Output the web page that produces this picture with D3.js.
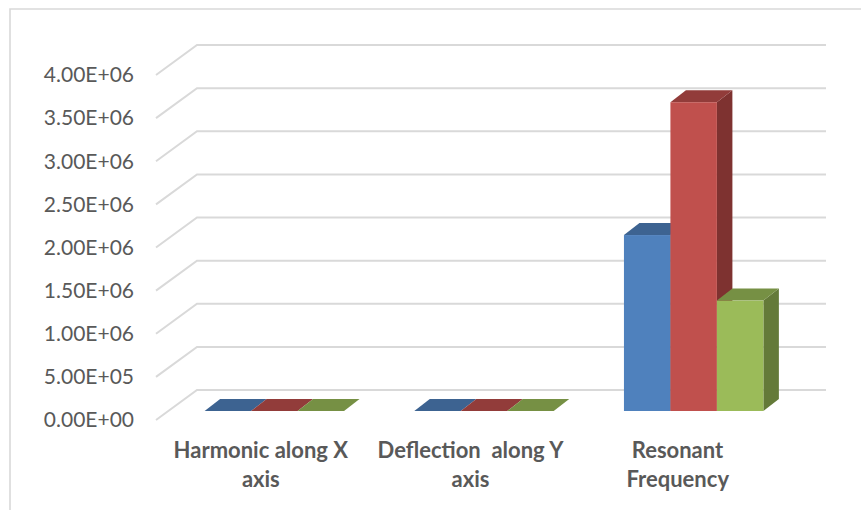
<!DOCTYPE html>
<html><head><meta charset="utf-8">
<script src="https://cdn.jsdelivr.net/npm/d3@7"></script>
<style>html,body{margin:0;padding:0;background:#fff}svg{display:block}text{font-family:Lato,"Open Sans",sans-serif;white-space:pre}</style>
</head><body><svg id="c" width="861" height="510"></svg>
<script>
const categories = [["Harmonic along X","axis"],["Deflection  along Y","axis"],["Resonant ","Frequency "]];
const seriesA = [120, 80, 2040000];
const seriesB = [150, 90, 3580000];
const seriesC = [200, 70, 1280000];
const tickValues = [0,500000,1000000,1500000,2000000,2500000,3000000,3500000,4000000];
const tickLabels = ["0.00E+00","5.00E+05","1.00E+06","1.50E+06","2.00E+06","2.50E+06","3.00E+06","3.50E+06","4.00E+06"];
const seriesColors = [
  {front:"#4f81bd",top:"#3d6391",side:"#2f4d71"},
  {front:"#c0504d",top:"#923c3a",side:"#7e3230"},
  {front:"#9bbb59",top:"#769044",side:"#647a39"}
];
const svg = d3.select("#c");
const W=861,H=510;
svg.append("path").attr("d",`M10,${H}V9H${W}`).attr("fill","none").attr("stroke","#d9d9d9").attr("stroke-width",1.6);
const y = d3.scaleLinear().domain([0,4000000]).range([420,75]);
const x0 = d3.scaleBand().domain(d3.range(3)).range([156,785]).paddingInner(0.335).paddingOuter(0.1675);
const x1 = d3.scaleBand().domain(d3.range(3)).range([0,x0.bandwidth()]);
const wallDx=41, wallDy=-30, rightEnd=826;
const g = svg.append("g");
tickValues.forEach((v,i)=>{
  const yy=y(v);
  g.append("path").attr("d",`M156,${yy}L${156+wallDx},${yy+wallDy}H${rightEnd}`)
    .attr("fill","none").attr("stroke","#d9d9d9").attr("stroke-width",2);
  svg.append("text").attr("x",134).attr("y",yy).attr("dy","0.35em").attr("text-anchor","end")
    .attr("font-size",21).attr("fill","#595959").text(tickLabels[i]);
});
const barDx=15.5, barDy=-12, offX=13.5, offY=-9;
const series=[seriesA,seriesB,seriesC];
const bars=svg.append("g");
categories.forEach((c,ci)=>{
  series.forEach((s,si)=>{
    const X=x0(ci)+offX+x1(si), w=x1.bandwidth();
    const base=y(0)+offY, top=y(s[ci])+offY;
    const col=seriesColors[si];
    const b=bars.append("g");
    b.append("path").attr("d",`M${X+w},${top}l${barDx},${barDy}V${base+barDy}L${X+w},${base}Z`).attr("fill",col.side);
    b.append("path").attr("d",`M${X},${top}l${barDx},${barDy}H${X+w+barDx}L${X+w},${top}Z`).attr("fill",col.top);
    b.append("rect").attr("x",X).attr("y",top).attr("width",w).attr("height",Math.max(0,base-top)).attr("fill",col.front);
  });
});
categories.forEach((c,ci)=>{
  const cx=x0(ci)+x0.bandwidth()/2;
  c.forEach((line,li)=>{
    svg.append("text").attr("x",cx).attr("y",458+li*29).attr("text-anchor","middle")
      .attr("font-size",22).attr("font-weight",700).attr("fill","#595959").text(line);
  });
});
</script></body></html>
